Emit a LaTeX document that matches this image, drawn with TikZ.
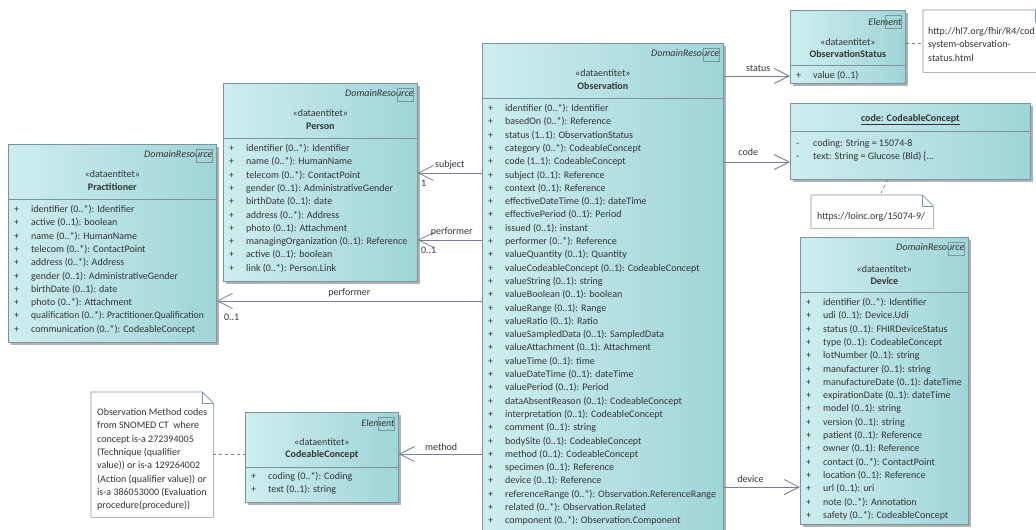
\documentclass[tikz,border=0pt]{standalone}
\usepackage{fontspec}
\setmainfont{Carlito}
\usetikzlibrary{arrows.meta,shadows}

\begin{document}
\begin{tikzpicture}[x=1pt, y=-1pt,
    classbox/.style={shape=rectangle, draw=boxline, line width=0.7pt, left color=boxlight, right color=boxdark, anchor=north west, inner sep=0pt, drop shadow={shadow xshift=3pt, shadow yshift=-3pt, fill=black!60}},
    notebox/.style={shape=rectangle, fill=white, anchor=north west, inner sep=0pt},
    noteline/.style={draw=boxline, line width=0.6pt},
    divider/.style={draw=boxline, line width=0.7pt},
    tagsquare/.style={draw=boxline, line width=0.6pt},
    basetext/.style={inner sep=0pt, text=textgray, font=\rowfont},
    parent/.style={basetext, anchor=east, font=\rowfont\itshape},
    stereo/.style={basetext},
    classname/.style={basetext, font=\rowfont\bfseries},
    rows/.style={basetext, anchor=north west},
    notetext/.style={basetext, anchor=north west, align=left},
    rolelabel/.style={basetext},
    assoc/.style={draw=linegray, line width=0.8pt, -{Straight Barb[length=15pt, width=15pt]}},
    notelink/.style={draw=linegray, line width=0.7pt, dashed}
  ]
    \definecolor{boxlight}{RGB}{206, 238, 238}
    \definecolor{boxdark}{RGB}{160, 213, 216}
    \definecolor{boxline}{RGB}{125, 148, 156}
    \definecolor{linegray}{RGB}{120, 128, 146}
    \definecolor{textgray}{RGB}{52, 52, 52}
    \def\rowfont{\fontsize{10}{13.3}\selectfont}
    \useasboundingbox (0,0) rectangle (1036,530);
    \fill[white] (0,0) rectangle (1036,530);
    \clip (0,0) rectangle (1036,530);

    % Practitioner
    \node[classbox, minimum width=208pt, minimum height=198pt] (prac) at (8,144) {};
    \draw[divider] ([yshift=-55pt]prac.north west) -- ([yshift=-55pt]prac.north east);
    \node[parent] (pracparent) at ([xshift=-4pt, yshift=-10pt]prac.north east) {DomainResource};
    \draw[tagsquare] ([xshift=-20pt, yshift=-5pt]prac.north east) rectangle ++(16,13);
    \node[stereo] (pracstereo) at ([yshift=-30pt]prac.north) {«dataentitet»};
    \node[classname] (pracname) at ([yshift=-43pt]prac.north) {Practitioner};
    \node[rows] (pracrows) at ([xshift=6pt, yshift=-59pt]prac.north west) {\begin{tabular}{@{}p{17pt}@{}l@{}}
        + & identifier (0..*): Identifier\\
        + & active (0..1): boolean\\
        + & name (0..*): HumanName\\
        + & telecom (0..*): ContactPoint\\
        + & address (0..*): Address\\
        + & gender (0..1): AdministrativeGender\\
        + & birthDate (0..1): date\\
        + & photo (0..*): Attachment\\
        + & \scalebox{0.96}[1]{qualification (0..*): Practitioner.Qualification}\\
        + & communication (0..*): CodeableConcept
      \end{tabular}};

    % Person
    \node[classbox, minimum width=194pt, minimum height=198pt] (person) at (223,83) {};
    \draw[divider] ([yshift=-55pt]person.north west) -- ([yshift=-55pt]person.north east);
    \node[parent] (personparent) at ([xshift=-4pt, yshift=-10pt]person.north east) {DomainResource};
    \draw[tagsquare] ([xshift=-20pt, yshift=-5pt]person.north east) rectangle ++(16,13);
    \node[stereo] (personstereo) at ([yshift=-30pt]person.north) {«dataentitet»};
    \node[classname] (personname) at ([yshift=-43pt]person.north) {Person};
    \node[rows] (personrows) at ([xshift=6pt, yshift=-59pt]person.north west) {\begin{tabular}{@{}p{17pt}@{}l@{}}
        + & identifier (0..*): Identifier\\
        + & name (0..*): HumanName\\
        + & telecom (0..*): ContactPoint\\
        + & gender (0..1): AdministrativeGender\\
        + & birthDate (0..1): date\\
        + & address (0..*): Address\\
        + & photo (0..1): Attachment\\
        + & managingOrganization (0..1): Reference\\
        + & active (0..1): boolean\\
        + & link (0..*): Person.Link
      \end{tabular}};

    % Observation
    \node[classbox, minimum width=241pt, minimum height=502pt] (obs) at (482,43) {};
    \draw[divider] ([yshift=-55pt]obs.north west) -- ([yshift=-55pt]obs.north east);
    \node[parent] (obsparent) at ([xshift=-4pt, yshift=-10pt]obs.north east) {DomainResource};
    \draw[tagsquare] ([xshift=-20pt, yshift=-5pt]obs.north east) rectangle ++(16,13);
    \node[stereo] (obsstereo) at ([yshift=-30pt]obs.north) {«dataentitet»};
    \node[classname] (obsname) at ([yshift=-43pt]obs.north) {Observation};
    \node[rows] (obsrows) at ([xshift=6pt, yshift=-59pt]obs.north west) {\begin{tabular}{@{}p{17pt}@{}l@{}}
        + & identifier (0..*): Identifier\\
        + & basedOn (0..*): Reference\\
        + & status (1..1): ObservationStatus\\
        + & category (0..*): CodeableConcept\\
        + & code (1..1): CodeableConcept\\
        + & subject (0..1): Reference\\
        + & context (0..1): Reference\\
        + & effectiveDateTime (0..1): dateTime\\
        + & effectivePeriod (0..1): Period\\
        + & issued (0..1): instant\\
        + & performer (0..*): Reference\\
        + & valueQuantity (0..1): Quantity\\
        + & valueCodeableConcept (0..1): CodeableConcept\\
        + & valueString (0..1): string\\
        + & valueBoolean (0..1): boolean\\
        + & valueRange (0..1): Range\\
        + & valueRatio (0..1): Ratio\\
        + & valueSampledData (0..1): SampledData\\
        + & valueAttachment (0..1): Attachment\\
        + & valueTime (0..1): time\\
        + & valueDateTime (0..1): dateTime\\
        + & valuePeriod (0..1): Period\\
        + & dataAbsentReason (0..1): CodeableConcept\\
        + & interpretation (0..1): CodeableConcept\\
        + & comment (0..1): string\\
        + & bodySite (0..1): CodeableConcept\\
        + & method (0..1): CodeableConcept\\
        + & specimen (0..1): Reference\\
        + & device (0..1): Reference\\
        + & referenceRange (0..*): Observation.ReferenceRange\\
        + & related (0..*): Observation.Related\\
        + & component (0..*): Observation.Component
      \end{tabular}};

    % ObservationStatus
    \node[classbox, minimum width=115pt, minimum height=73pt] (status) at (790,10) {};
    \draw[divider] ([yshift=-55pt]status.north west) -- ([yshift=-55pt]status.north east);
    \node[parent] (statusparent) at ([xshift=-4pt, yshift=-12pt]status.north east) {Element};
    \draw[tagsquare] ([xshift=-20pt, yshift=-5pt]status.north east) rectangle ++(16,13);
    \node[stereo] (statusstereo) at ([yshift=-32pt]status.north) {«dataentitet»};
    \node[classname] (statusname) at ([yshift=-44pt]status.north) {ObservationStatus};
    \node[rows] (statusrows) at ([xshift=6pt, yshift=-59pt]status.north west) {\begin{tabular}{@{}p{17pt}@{}l@{}}
        + & value (0..1)
      \end{tabular}};

    % code: CodeableConcept
    \node[classbox, minimum width=240pt, minimum height=76pt] (code) at (790,103) {};
    \draw[divider] ([yshift=-28pt]code.north west) -- ([yshift=-28pt]code.north east);
    \node[classname] (codename) at ([yshift=-17pt]code.north) {\underline{code: CodeableConcept}};
    \node[rows] (coderows) at ([xshift=6pt, yshift=-34pt]code.north west) {\begin{tabular}{@{}p{17pt}@{}l@{}}
        - & coding: String = 15074-8\\
        - & text: String = Glucose (Bld) [...
      \end{tabular}};

    % Device
    \node[classbox, minimum width=168pt, minimum height=287pt] (device) at (800,237) {};
    \draw[divider] ([yshift=-55pt]device.north west) -- ([yshift=-55pt]device.north east);
    \node[parent] (deviceparent) at ([xshift=-4pt, yshift=-10pt]device.north east) {DomainResource};
    \draw[tagsquare] ([xshift=-20pt, yshift=-5pt]device.north east) rectangle ++(16,13);
    \node[stereo] (devicestereo) at ([yshift=-32pt]device.north) {«dataentitet»};
    \node[classname] (devicename) at ([yshift=-44pt]device.north) {Device};
    \node[rows] (devicerows) at ([xshift=6pt, yshift=-59pt]device.north west) {\begin{tabular}{@{}p{17pt}@{}l@{}}
        + & identifier (0..*): Identifier\\
        + & udi (0..1): Device.Udi\\
        + & status (0..1): FHIRDeviceStatus\\
        + & type (0..1): CodeableConcept\\
        + & lotNumber (0..1): string\\
        + & manufacturer (0..1): string\\
        + & manufactureDate (0..1): dateTime\\
        + & expirationDate (0..1): dateTime\\
        + & model (0..1): string\\
        + & version (0..1): string\\
        + & patient (0..1): Reference\\
        + & owner (0..1): Reference\\
        + & contact (0..*): ContactPoint\\
        + & location (0..1): Reference\\
        + & url (0..1): uri\\
        + & note (0..*): Annotation\\
        + & safety (0..*): CodeableConcept
      \end{tabular}};

    % CodeableConcept (method)
    \node[classbox, minimum width=153pt, minimum height=90pt] (concept) at (245,412) {};
    \draw[divider] ([yshift=-55pt]concept.north west) -- ([yshift=-55pt]concept.north east);
    \node[parent] (conceptparent) at ([xshift=-4pt, yshift=-11pt]concept.north east) {Element};
    \draw[tagsquare] ([xshift=-20pt, yshift=-5pt]concept.north east) rectangle ++(16,13);
    \node[stereo] (conceptstereo) at ([yshift=-30pt]concept.north) {«dataentitet»};
    \node[classname] (conceptname) at ([yshift=-43pt]concept.north) {CodeableConcept};
    \node[rows] (conceptrows) at ([xshift=6pt, yshift=-58pt]concept.north west) {\begin{tabular}{@{}p{17pt}@{}l@{}}
        + & coding (0..*): Coding\\
        + & text (0..1): string
      \end{tabular}};

    % notes
    \node[notebox, minimum width=123pt, minimum height=62pt] (statusnote) at (923,10) {};
    \draw[noteline] (statusnote.north west) -- ([xshift=-11pt]statusnote.north east) -- ([yshift=-11pt]statusnote.north east) -- (statusnote.south east) -- (statusnote.south west) -- cycle;
    \draw[noteline] ([xshift=-11pt]statusnote.north east) -- ([xshift=-11pt, yshift=-11pt]statusnote.north east) -- ([yshift=-11pt]statusnote.north east);
    \node[notetext] (statusnotetext) at ([xshift=5pt, yshift=-15pt]statusnote.north west) {\strut http://hl7.org/fhir/R4/cod\\system-observation-\\status.html};

    \node[notebox, minimum width=122pt, minimum height=33pt] (loincnote) at (811,195) {};
    \draw[noteline] (loincnote.north west) -- ([xshift=-11pt]loincnote.north east) -- ([yshift=-11pt]loincnote.north east) -- (loincnote.south east) -- (loincnote.south west) -- cycle;
    \draw[noteline] ([xshift=-11pt]loincnote.north east) -- ([xshift=-11pt, yshift=-11pt]loincnote.north east) -- ([yshift=-11pt]loincnote.north east);
    \node[notetext] (loincnotetext) at ([xshift=6pt, yshift=-15pt]loincnote.north west) {\strut https://loinc.org/15074-9/};

    \node[notebox, minimum width=122pt, minimum height=125pt] (methodnote) at (91,392) {};
    \draw[noteline] (methodnote.north west) -- ([xshift=-11pt]methodnote.north east) -- ([yshift=-11pt]methodnote.north east) -- (methodnote.south east) -- (methodnote.south west) -- cycle;
    \draw[noteline] ([xshift=-11pt]methodnote.north east) -- ([xshift=-11pt, yshift=-11pt]methodnote.north east) -- ([yshift=-11pt]methodnote.north east);
    \node[notetext] (methodnotetext) at ([xshift=6pt, yshift=-14pt]methodnote.north west) {\strut Observation Method codes\\from SNOMED CT\ \ where\\concept is-a 272394005\\(Technique (qualifier\\value)) or is-a 129264002\\(Action (qualifier value)) or\\is-a 386053000 (Evaluation\\procedure(procedure))};

    % associations
    \draw[assoc] ([yshift=-33pt]obs.north east) -- node[rolelabel, pos=0.52, above=4pt] (statuslbl) {status} ([yshift=-66pt]status.north west);
    \draw[assoc] ([yshift=-119pt]obs.north east) -- node[rolelabel, pos=0.37, above=6pt] (codelbl) {code} ([yshift=-59pt]code.north west);
    \draw[assoc] ([yshift=-130pt]obs.north west) -- node[rolelabel, pos=0.5, above=3pt] (subjectlbl) {subject} ([yshift=-90pt]person.north east)
        node[rolelabel, anchor=north west, xshift=3pt, yshift=-7pt] (subjectmult) {1};
    \draw[assoc] ([yshift=-197pt]obs.north west) -- node[rolelabel, pos=0.47, above=3pt] (performerlbl) {performer} ([yshift=-157pt]person.north east)
        node[rolelabel, anchor=north west, xshift=3pt, yshift=-7pt] (performermult) {0..1};
    \draw[assoc] ([yshift=-258pt]obs.north west) -- node[rolelabel, pos=0.5, above=3pt] (pracperformerlbl) {performer} ([yshift=-157pt]prac.north east)
        node[rolelabel, anchor=north west, xshift=7pt, yshift=-13pt] (pracperformermult) {0..1};
    \draw[assoc] ([yshift=-411pt]obs.north west) -- node[rolelabel, pos=0.49, above=3pt] (methodlbl) {method} ([yshift=-42pt]concept.north east);
    \draw[assoc] ([yshift=-444pt]obs.north east) -- node[rolelabel, pos=0.35, above=4pt] (devicelbl) {device} ([yshift=-250pt]device.north west);

    % note links
    \draw[notelink] ([yshift=-33pt]status.north east) -- ([yshift=-33pt]statusnote.north west);
    \draw[notelink] ([xshift=-23pt]code.south) -- ([xshift=8pt]loincnote.north);
    \draw[notelink] ([yshift=-62pt]methodnote.north east) -- ([yshift=-42pt]concept.north west);
\end{tikzpicture}
\end{document}
